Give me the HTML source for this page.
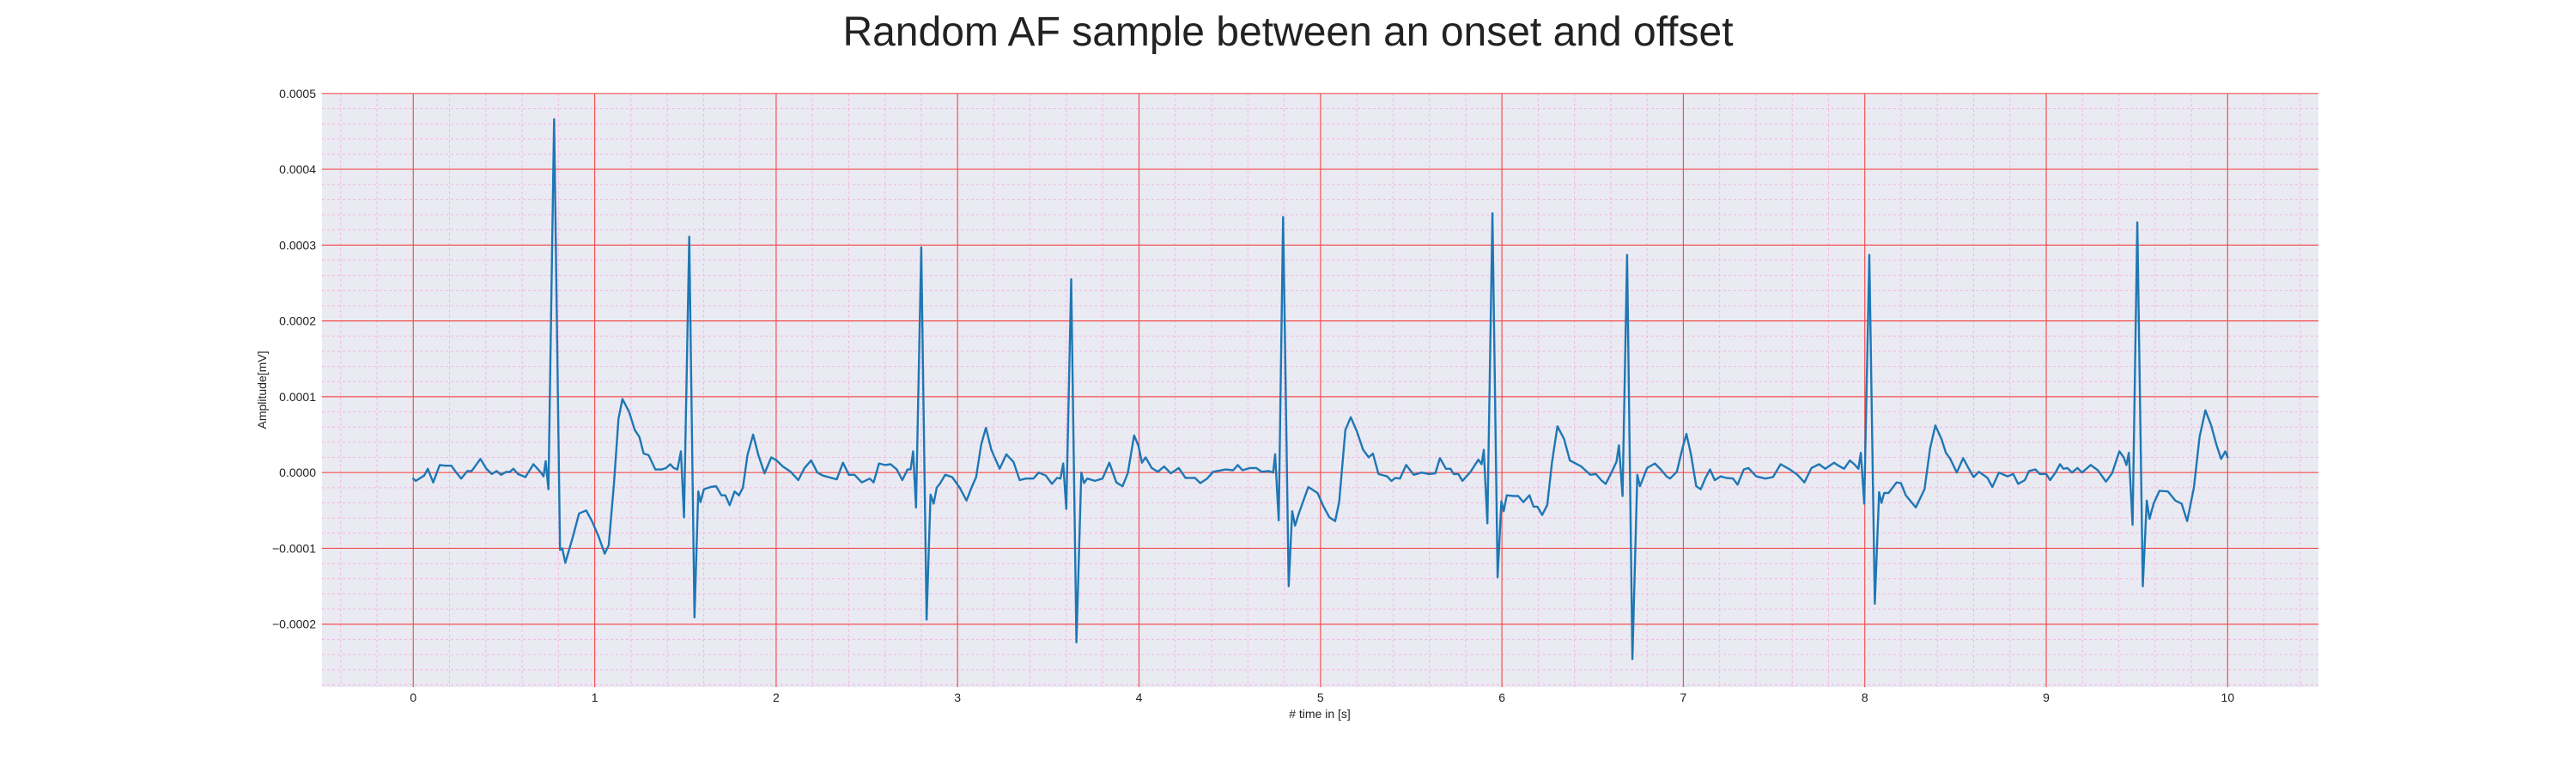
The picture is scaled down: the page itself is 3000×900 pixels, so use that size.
<!DOCTYPE html>
<html><head><meta charset="utf-8">
<style>
html,body{margin:0;padding:0;background:#fff;}
svg{display:block;font-family:"Liberation Sans",Arial,sans-serif;}
</style></head>
<body>
<svg id="chart" width="3000" height="900" viewBox="0 0 3000 900" xmlns="http://www.w3.org/2000/svg">
<text x="1500" y="53" text-anchor="middle" font-size="48" fill="#222">Random AF sample between an onset and offset</text>
<rect x="375" y="108.8" width="2325" height="691.2" fill="#eaeaf2"/>
<g id="grid-minor"></g>
<g id="grid-major"></g>
<g id="series"></g>
<g id="yticks"></g>
<g id="xticks"></g>
<text x="1537" y="836" text-anchor="middle" font-size="14" fill="#222"># time in [s]</text>
<text transform="translate(310,454) rotate(-90)" text-anchor="middle" font-size="14" fill="#222">Amplitude[mV]</text>
</svg>
<script>
// time in seconds
const timeS = [0,0.014,0.04,0.06,0.08,0.11,0.146,0.175,0.21,0.234,0.264,0.298,0.322,0.37,0.403,0.433,0.459,0.484,0.513,0.53,0.552,0.577,0.618,0.662,0.7,0.718,0.73,0.745,0.776,0.809,0.821,0.838,0.877,0.914,0.953,0.987,1.021,1.055,1.077,1.106,1.131,1.153,1.19,1.221,1.246,1.27,1.297,1.334,1.368,1.394,1.416,1.436,1.456,1.475,1.492,1.521,1.55,1.571,1.583,1.602,1.639,1.669,1.698,1.72,1.744,1.771,1.795,1.817,1.842,1.873,1.902,1.936,1.973,2.003,2.037,2.08,2.122,2.156,2.193,2.227,2.257,2.334,2.368,2.401,2.432,2.472,2.516,2.537,2.567,2.6,
2.631,2.665,2.695,2.724,2.741,2.755,2.771,2.8,2.829,2.851,2.868,2.885,2.902,2.932,2.97,3.012,3.049,3.08,3.102,3.13,3.156,3.186,3.232,3.269,3.308,3.342,3.376,3.418,3.447,3.486,3.52,3.548,3.567,3.582,3.599,3.626,3.655,3.682,3.697,3.714,3.757,3.799,3.836,3.875,3.909,3.938,3.973,3.997,4.016,4.036,4.07,4.104,4.138,4.175,4.219,4.256,4.308,4.338,4.375,4.409,4.477,4.519,4.544,4.57,4.612,4.646,4.676,4.713,4.739,4.75,4.77,4.794,4.825,4.844,4.86,4.882,4.933,4.984,5.015,5.049,5.081,5.103,5.137,5.167,5.201,
5.235,5.266,5.289,5.32,5.367,5.391,5.413,5.438,5.472,5.514,5.557,5.599,5.633,5.658,5.692,5.717,5.734,5.76,5.782,5.827,5.87,5.888,5.9,5.92,5.948,5.976,5.997,6.01,6.027,6.064,6.09,6.118,6.152,6.174,6.196,6.222,6.25,6.276,6.306,6.343,6.374,6.437,6.487,6.518,6.547,6.572,6.602,6.631,6.645,6.665,6.69,6.719,6.746,6.761,6.8,6.843,6.876,6.907,6.927,6.964,6.995,7.017,7.042,7.071,7.096,7.122,7.147,7.173,7.206,7.235,7.274,7.299,7.333,7.359,7.401,7.452,7.494,7.536,7.587,7.629,7.667,7.706,7.748,7.782,
7.831,7.855,7.886,7.918,7.942,7.965,7.978,7.997,8.025,8.055,8.079,8.092,8.107,8.131,8.175,8.199,8.226,8.281,8.329,8.36,8.389,8.423,8.447,8.471,8.507,8.542,8.571,8.6,8.629,8.676,8.703,8.739,8.787,8.818,8.845,8.882,8.905,8.94,8.965,9.0,9.021,9.051,9.076,9.095,9.116,9.142,9.172,9.197,9.245,9.284,9.329,9.363,9.403,9.427,9.442,9.455,9.476,9.502,9.532,9.554,9.569,9.592,9.624,9.671,9.711,9.746,9.777,9.814,9.845,9.877,9.908,9.94,9.964,9.987,10.0];
// amplitude in units of 1e-5 mV
const amplitudeE5 = [-0.8,-1.1,-0.7,-0.4,0.5,-1.3,1.0,0.9,0.9,0.1,-0.8,0.2,0.2,1.8,0.5,-0.2,0.2,-0.3,0.1,0.05,0.5,-0.2,-0.6,1.1,0.1,-0.5,1.5,-2.2,46.6,-10.2,-10,-11.9,-8.7,-5.4,-5.0,-6.5,-8.4,-10.7,-9.6,-1.5,7.1,9.7,8.0,5.6,4.7,2.5,2.3,0.4,0.4,0.6,1.1,0.6,0.4,2.8,-5.9,31.1,-19.1,-2.5,-3.9,-2.2,-1.9,-1.8,-3.0,-3.0,-4.3,-2.5,-3.0,-2.0,2.3,5.0,2.3,-0.1,2.0,1.6,0.8,0.1,-1.0,0.6,1.6,0,-0.4,-0.9,1.3,-0.3,-0.3,-1.3,-0.8,-1.3,1.2,1.0,
1.1,0.4,-1.0,0.4,0.4,2.8,-4.6,29.7,-19.4,-2.9,-4.1,-2.0,-1.5,-0.3,-0.6,-2.0,-3.7,-1.8,-0.6,3.7,5.9,3.0,0.5,2.4,1.4,-1.0,-0.8,-0.8,0,-0.4,-1.5,-0.7,-0.8,1.2,-4.8,25.5,-22.4,0,-1.4,-0.8,-1.1,-0.8,1.3,-1.3,-1.8,-0.1,4.9,3.5,1.3,2.0,0.6,0.1,0.8,-0.1,0.6,-0.7,-0.7,-1.4,-0.8,0.1,0.4,0.3,1.0,0.3,0.6,0.6,0.1,0.2,0,2.4,-6.3,33.7,-15.0,-5.1,-7.0,-5.3,-1.9,-2.7,-4.4,-5.9,-6.4,-3.9,5.6,7.3,5.4,
3.0,2.0,2.5,-0.2,-0.5,-1.1,-0.7,-0.8,1.0,-0.3,0,-0.2,-0.1,1.9,0.5,0.5,-0.2,-0.2,-1.1,0.1,1.7,1.1,3.0,-6.7,34.2,-13.8,-3.8,-5.1,-3.0,-3.1,-3.1,-3.9,-3.0,-4.5,-4.5,-5.6,-4.3,1.3,6.1,4.4,1.6,0.8,-0.3,-0.2,-1.0,-1.5,-0.1,1.4,3.6,-3.1,28.7,-24.6,-0.3,-1.8,0.6,1.2,0.4,-0.5,-0.8,0.1,3.2,5.1,2.4,-1.8,-2.2,-0.7,0.4,-1.0,-0.5,-0.7,-0.8,-1.6,0.4,0.6,-0.5,-0.8,-0.6,1.1,0.4,-0.3,-1.3,0.6,1.1,0.5,
1.3,0.9,0.5,1.6,1.1,0.5,2.6,-4.1,28.7,-17.3,-2.6,-4.0,-2.7,-2.7,-1.3,-1.4,-3.0,-4.6,-2.2,3.2,6.2,4.4,2.6,1.8,0,1.9,0.6,-0.6,0.1,-0.7,-1.9,0,-0.5,-0.2,-1.5,-1.0,0.2,0.4,-0.2,-0.2,-1.0,0,1.1,0.5,0.6,0,0.6,0,1.0,0.3,-1.2,-0.1,2.8,2.0,1.0,2.6,-6.9,33.0,-15.0,-3.7,-6.1,-4.1,-2.4,-2.5,-3.7,-4.1,-6.4,-2.0,4.7,8.2,6.3,3.5,1.8,2.8,2.0];
const xTickLabels = ["0","1","2","3","4","5","6","7","8","9","10"];
const yTickLabels = ["\u22120.0002","\u22120.0001","0.0000","0.0001","0.0002","0.0003","0.0004","0.0005"];
const yTickValuesE5 = [-20,-10,0,10,20,30,40,50];

const NS = "http://www.w3.org/2000/svg";
const PL = 375, PR = 2700, PT = 108.8, PB = 800;
const X0 = -0.503, X1 = 10.5, Y0 = -28.3, Y1 = 50;
const sx = t => PL + (t - X0) / (X1 - X0) * (PR - PL);
const sy = v => PB - (v - Y0) / (Y1 - Y0) * (PB - PT);
function mk(tag, attrs, parent){ const e=document.createElementNS(NS,tag); for(const k in attrs) e.setAttribute(k,attrs[k]); parent.appendChild(e); return e; }

const gMin = document.getElementById('grid-minor');
const gMaj = document.getElementById('grid-major');
for (let i = -2; i <= 52; i++) {
  const t = i * 0.2;
  if (t < X0 || t > X1 || i % 5 === 0) continue;
  const l = mk('line',{x1:sx(t),x2:sx(t),y1:PT,y2:PB,stroke:'#f4b4e4','stroke-width':1,'stroke-dasharray':'3,3'},gMin);
  
  
}
for (let i = -14; i <= 25; i++) {
  const v = i * 2;
  if (v < Y0 || v > Y1 || i % 5 === 0) continue;
  const l = mk('line',{x1:PL,x2:PR,y1:sy(v),y2:sy(v),stroke:'#f4b4e4','stroke-width':1,'stroke-dasharray':'3,3'},gMin);
  
  
}
const gx = document.getElementById('xticks');
xTickLabels.forEach((lab, i) => {
  const t = parseFloat(lab);
  const l = mk('line',{x1:sx(t),x2:sx(t),y1:PT,y2:PB,stroke:'#f45050','stroke-width':1.2},gMaj);
  
  
  const tx = mk('text',{x:sx(t),y:817,'text-anchor':'middle','font-size':14,fill:'#222'},gx);
  tx.textContent = lab;
  
  
});
const gy = document.getElementById('yticks');
yTickValuesE5.forEach((v, i) => {
  const l = mk('line',{x1:PL,x2:PR,y1:sy(v),y2:sy(v),stroke:'#f45050','stroke-width':1.2},gMaj);
  
  
  const tx = mk('text',{x:368,y:sy(v)+5,'text-anchor':'end','font-size':14,fill:'#222'},gy);
  tx.textContent = yTickLabels[i];
  
  
});
const pts = timeS.map((t, i) => sx(t).toFixed(1) + ',' + sy(amplitudeE5[i]).toFixed(1)).join(' ');
const line = mk('polyline',{points:pts,fill:'none',stroke:'#1f77b4','stroke-width':2.4,'stroke-linejoin':'round','stroke-linecap':'round'},document.getElementById('series'));


</script>
</body></html>
